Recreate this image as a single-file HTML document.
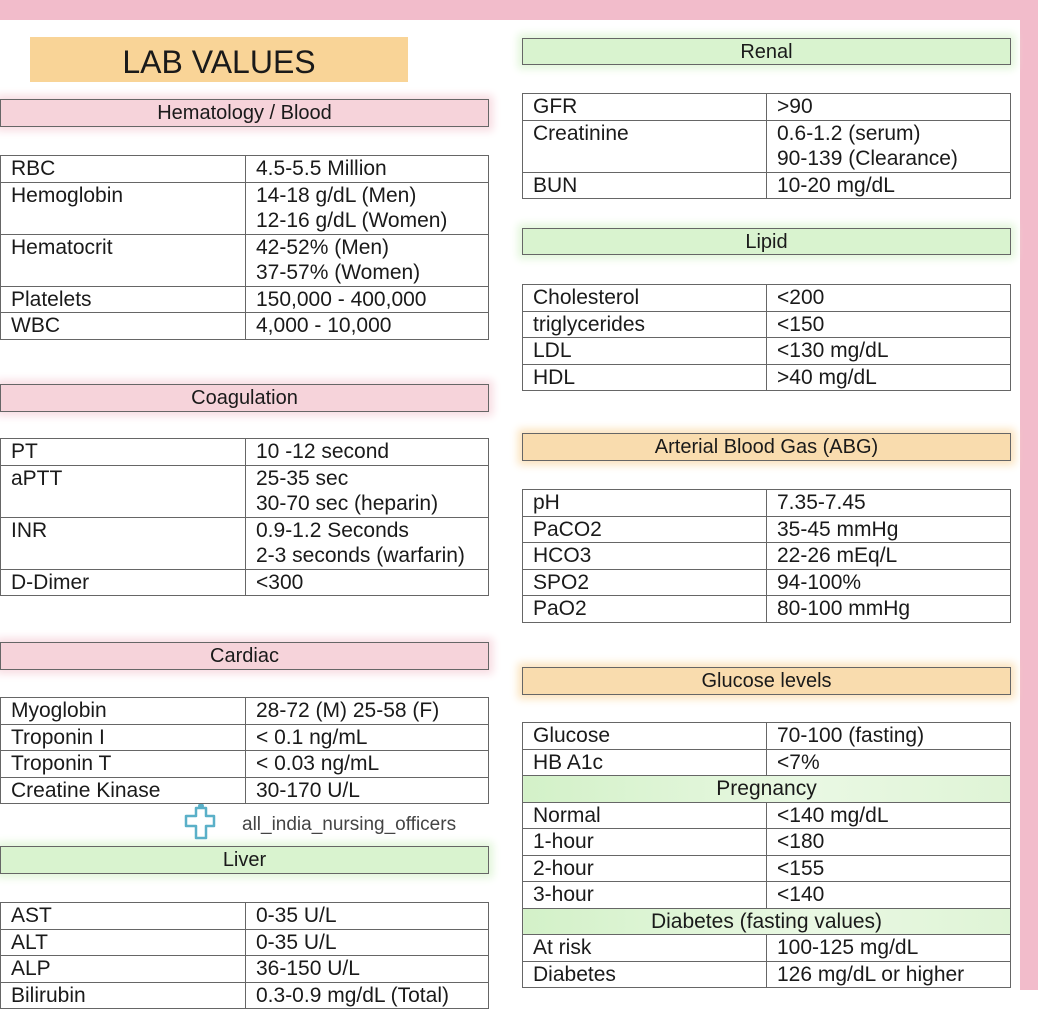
<!DOCTYPE html>
<html><head><meta charset="utf-8">
<style>
html,body{margin:0;padding:0;}
body{width:1038px;height:990px;position:relative;overflow:hidden;background:#fff;font-family:"Liberation Sans",sans-serif;color:#1a1a1a;}
.abs{position:absolute;box-sizing:border-box;}
.hdr{border:1.5px solid #666;text-align:center;font-size:20px;line-height:27px;}
.pink{background:#f6d3da;box-shadow:0 0 8px 4px #f8dce2;}
.green{background:#d9f3cf;box-shadow:0 0 8px 4px #e2f6da;}
.orange{background:#f9dcae;box-shadow:0 0 8px 4px #fbe3bd;}
table{position:absolute;border-collapse:collapse;table-layout:fixed;font-size:21px;}
td{border:1.5px solid #666;padding:0 0 0 10px;vertical-align:top;line-height:25.5px;white-space:nowrap;overflow:hidden;}
td.m{text-align:center;padding:0;background:linear-gradient(90deg,#d3f1c8,#e9f8e3 60%,#dff4d6);}
</style></head>
<body>
<div class="abs" style="left:0;top:0;width:1038px;height:20px;background:#f2bccb"></div>
<div class="abs" style="left:1020px;top:0;width:18px;height:990px;background:#f2bccb"></div>
<div class="abs" style="left:30px;top:37px;width:378px;height:45px;background:#f9d497;text-align:center;font-size:32px;line-height:50px;">LAB VALUES</div>

<div class="abs hdr pink" style="left:0;top:99px;width:489px;height:28px;">Hematology / Blood</div>
<div class="abs hdr pink" style="left:0;top:384px;width:489px;height:28px;">Coagulation</div>
<div class="abs hdr pink" style="left:0;top:642px;width:489px;height:28px;">Cardiac</div>
<div class="abs hdr green" style="left:0;top:846px;width:489px;height:28px;">Liver</div>
<div class="abs hdr green" style="left:522px;top:38px;width:489px;height:27px;">Renal</div>
<div class="abs hdr green" style="left:522px;top:228px;width:489px;height:27px;">Lipid</div>
<div class="abs hdr orange" style="left:522px;top:433px;width:489px;height:28px;">Arterial Blood Gas (ABG)</div>
<div class="abs hdr orange" style="left:522px;top:667px;width:489px;height:28px;">Glucose levels</div>

<div class="abs" style="left:182px;top:800px;width:310px;height:40px;">
<svg width="40" height="40" style="position:absolute;left:0;top:0"><path d="M14 8h10v8h8v10h-8v12h-10v-12h-10v-10h10z" fill="none" stroke="#5ab0c8" stroke-width="2.5" stroke-linejoin="round"/><circle cx="19" cy="6" r="3" fill="#5ab0c8"/></svg>
<span style="position:absolute;left:60px;top:14px;font-size:19px;color:#444">all_india_nursing_officers</span>
</div>

<table style="left:0;top:155px;width:489px"><colgroup><col style="width:245px"><col></colgroup>
<tr><td>RBC</td><td>4.5-5.5 Million</td></tr>
<tr><td>Hemoglobin</td><td>14-18 g/dL (Men)<br>12-16 g/dL (Women)</td></tr>
<tr><td>Hematocrit</td><td>42-52% (Men)<br>37-57% (Women)</td></tr>
<tr><td>Platelets</td><td>150,000 - 400,000</td></tr>
<tr><td>WBC</td><td>4,000 - 10,000</td></tr></table>

<table style="left:0;top:438px;width:489px"><colgroup><col style="width:245px"><col></colgroup>
<tr><td>PT</td><td>10 -12 second</td></tr>
<tr><td>aPTT</td><td>25-35 sec<br>30-70 sec (heparin)</td></tr>
<tr><td>INR</td><td>0.9-1.2 Seconds<br>2-3 seconds (warfarin)</td></tr>
<tr><td>D-Dimer</td><td>&lt;300</td></tr></table>

<table style="left:0;top:697px;width:489px"><colgroup><col style="width:245px"><col></colgroup>
<tr><td>Myoglobin</td><td>28-72 (M) 25-58 (F)</td></tr>
<tr><td>Troponin I</td><td>&lt; 0.1 ng/mL</td></tr>
<tr><td>Troponin T</td><td>&lt; 0.03 ng/mL</td></tr>
<tr><td>Creatine Kinase</td><td>30-170 U/L</td></tr></table>

<table style="left:0;top:902px;width:489px"><colgroup><col style="width:245px"><col></colgroup>
<tr><td>AST</td><td>0-35 U/L</td></tr>
<tr><td>ALT</td><td>0-35 U/L</td></tr>
<tr><td>ALP</td><td>36-150 U/L</td></tr>
<tr><td>Bilirubin</td><td>0.3-0.9 mg/dL (Total)</td></tr></table>

<table style="left:522px;top:93px;width:489px"><colgroup><col style="width:244px"><col></colgroup>
<tr><td>GFR</td><td>&gt;90</td></tr>
<tr><td>Creatinine</td><td>0.6-1.2 (serum)<br>90-139 (Clearance)</td></tr>
<tr><td>BUN</td><td>10-20 mg/dL</td></tr></table>

<table style="left:522px;top:284px;width:489px"><colgroup><col style="width:244px"><col></colgroup>
<tr><td>Cholesterol</td><td>&lt;200</td></tr>
<tr><td>triglycerides</td><td>&lt;150</td></tr>
<tr><td>LDL</td><td>&lt;130 mg/dL</td></tr>
<tr><td>HDL</td><td>&gt;40 mg/dL</td></tr></table>

<table style="left:522px;top:489px;width:489px"><colgroup><col style="width:244px"><col></colgroup>
<tr><td>pH</td><td>7.35-7.45</td></tr>
<tr><td>PaCO2</td><td>35-45 mmHg</td></tr>
<tr><td>HCO3</td><td>22-26 mEq/L</td></tr>
<tr><td>SPO2</td><td>94-100%</td></tr>
<tr><td>PaO2</td><td>80-100 mmHg</td></tr></table>

<table style="left:522px;top:722px;width:489px"><colgroup><col style="width:244px"><col></colgroup>
<tr><td>Glucose</td><td>70-100 (fasting)</td></tr>
<tr><td>HB A1c</td><td>&lt;7%</td></tr>
<tr><td class="m" colspan="2">Pregnancy</td></tr>
<tr><td>Normal</td><td>&lt;140 mg/dL</td></tr>
<tr><td>1-hour</td><td>&lt;180</td></tr>
<tr><td>2-hour</td><td>&lt;155</td></tr>
<tr><td>3-hour</td><td>&lt;140</td></tr>
<tr><td class="m" colspan="2">Diabetes (fasting values)</td></tr>
<tr><td>At risk</td><td>100-125 mg/dL</td></tr>
<tr><td>Diabetes</td><td>126 mg/dL or higher</td></tr></table>
</body></html>
